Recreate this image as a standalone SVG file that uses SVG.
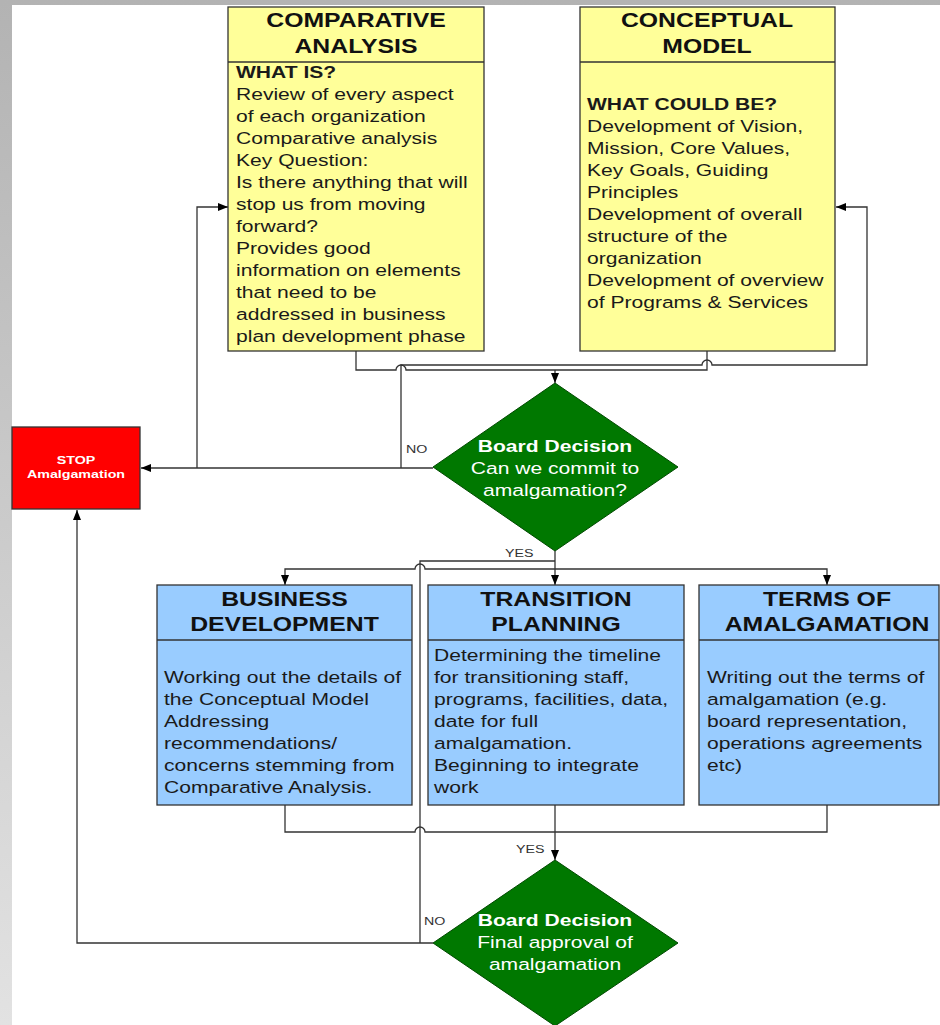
<svg xmlns="http://www.w3.org/2000/svg" width="940" height="1025" viewBox="0 0 940 1025">
<defs>
<linearGradient id="bg" x1="0" y1="0" x2="0" y2="1">
<stop offset="0" stop-color="#b3b3b3"/>
<stop offset="1" stop-color="#e2e2e2"/>
</linearGradient>
<marker id="arr" viewBox="0 0 10 8" refX="10" refY="4" markerWidth="10" markerHeight="8" markerUnits="userSpaceOnUse" orient="auto">
<path d="M0,0 L10,4 L0,8 z" fill="#000"/>
</marker>
<style>
text{font-family:"Liberation Sans",Arial,sans-serif;}
.hd{font-size:20px;font-weight:bold;text-anchor:middle;fill:#111;}
.bd{font-size:17px;fill:#1a1a1a;}
.b{font-weight:bold;}
.dt{font-size:17px;fill:#fff;text-anchor:middle;}
.lbl{font-size:11.5px;fill:#333;}
.yel{fill:#ffff99;stroke:#333;stroke-width:1.3;}
.blu{fill:#99ccff;stroke:#333;stroke-width:1.3;}
.div{stroke:#333;stroke-width:1.3;fill:none;}
.dia{fill:#007800;stroke:#004a00;stroke-width:1;}
.ln{fill:none;stroke:#333;stroke-width:1.3;}
</style>
</defs>
<rect width="940" height="1025" fill="url(#bg)"/>
<rect x="12" y="5" width="928" height="1020" fill="#fff"/>

<g id="connectors">
<path class="ln" d="M356,351 V370 H396 A5,5 0 0 1 406,370 H707 V351"/>
<path class="ln" d="M555,370 V383" marker-end="url(#arr)"/>
<path class="ln" d="M433,468 H141" marker-end="url(#arr)"/>
<path class="ln" d="M197,468 V207 H228" marker-end="url(#arr)"/>
<path class="ln" d="M401,468 V365 H702 A5,5 0 0 1 712,365 H867 V207 H836" marker-end="url(#arr)"/>
<path class="ln" d="M555,551 V585" marker-end="url(#arr)"/>
<path class="ln" d="M420,943 V561 H555"/>
<path class="ln" d="M555,569 H425 A5,5 0 0 0 415,569 H285 V585" marker-end="url(#arr)"/>
<path class="ln" d="M555,569 H827 V585" marker-end="url(#arr)"/>
<path class="ln" d="M285,805 V832 H415 A5,5 0 0 1 425,832 H827 V805"/>
<path class="ln" d="M555,805 V860" marker-end="url(#arr)"/>
<path class="ln" d="M433,943 H77 V510" marker-end="url(#arr)"/>
<text class="lbl" transform="translate(406,453) scale(1.24,1)">NO</text>
<text class="lbl" transform="translate(505,557) scale(1.24,1)">YES</text>
<text class="lbl" transform="translate(516,853) scale(1.24,1)">YES</text>
<text class="lbl" transform="translate(424,925) scale(1.24,1)">NO</text>
</g>

<g id="comparative-analysis">
<rect class="yel" x="228" y="7" width="256" height="344"/>
<path class="div" d="M228,62 H484"/>
<text class="hd" transform="translate(356,27) scale(1.24,1)"><tspan x="0">COMPARATIVE</tspan><tspan x="0" dy="26">ANALYSIS</tspan></text>
<text class="bd" transform="translate(236,78) scale(1.24,1)"><tspan x="0" class="b">WHAT IS?</tspan><tspan x="0" dy="22">Review of every aspect</tspan><tspan x="0" dy="22">of each organization</tspan><tspan x="0" dy="22">Comparative analysis</tspan><tspan x="0" dy="22">Key Question:</tspan><tspan x="0" dy="22">Is there anything that will</tspan><tspan x="0" dy="22">stop us from moving</tspan><tspan x="0" dy="22">forward?</tspan><tspan x="0" dy="22">Provides good</tspan><tspan x="0" dy="22">information on elements</tspan><tspan x="0" dy="22">that need to be</tspan><tspan x="0" dy="22">addressed in business</tspan><tspan x="0" dy="22">plan development phase</tspan></text>
</g>

<g id="conceptual-model">
<rect class="yel" x="580" y="7" width="255" height="344"/>
<path class="div" d="M580,62 H835"/>
<text class="hd" transform="translate(707,27) scale(1.24,1)"><tspan x="0">CONCEPTUAL</tspan><tspan x="0" dy="26">MODEL</tspan></text>
<text class="bd" transform="translate(587,110) scale(1.24,1)"><tspan x="0" class="b">WHAT COULD BE?</tspan><tspan x="0" dy="22">Development of Vision,</tspan><tspan x="0" dy="22">Mission, Core Values,</tspan><tspan x="0" dy="22">Key Goals, Guiding</tspan><tspan x="0" dy="22">Principles</tspan><tspan x="0" dy="22">Development of overall</tspan><tspan x="0" dy="22">structure of the</tspan><tspan x="0" dy="22">organization</tspan><tspan x="0" dy="22">Development of overview</tspan><tspan x="0" dy="22">of Programs &amp; Services</tspan></text>
</g>

<g id="stop">
<rect x="12" y="427" width="128" height="82" fill="#ff0000" stroke="#333" stroke-width="1.3"/>
<text transform="translate(76,464) scale(1.24,1)" font-size="11.5" font-weight="bold" fill="#fff" text-anchor="middle"><tspan x="0">STOP</tspan><tspan x="0" dy="14">Amalgamation</tspan></text>
</g>

<g id="board-decision-1">
<polygon class="dia" points="555,383 678,467 555,551 433,467"/>
<text class="dt" transform="translate(555,452) scale(1.24,1)"><tspan x="0" class="b">Board Decision</tspan><tspan x="0" dy="22">Can we commit to</tspan><tspan x="0" dy="22">amalgamation?</tspan></text>
</g>

<g id="business-development">
<rect class="blu" x="157" y="585" width="255" height="220"/>
<path class="div" d="M157,640 H412"/>
<text class="hd" transform="translate(284.5,606) scale(1.24,1)"><tspan x="0">BUSINESS</tspan><tspan x="0" dy="25">DEVELOPMENT</tspan></text>
<text class="bd" transform="translate(164,683) scale(1.24,1)"><tspan x="0">Working out the details of</tspan><tspan x="0" dy="22">the Conceptual Model</tspan><tspan x="0" dy="22">Addressing</tspan><tspan x="0" dy="22">recommendations/</tspan><tspan x="0" dy="22">concerns stemming from</tspan><tspan x="0" dy="22">Comparative Analysis.</tspan></text>
</g>

<g id="transition-planning">
<rect class="blu" x="428" y="585" width="256" height="220"/>
<path class="div" d="M428,640 H684"/>
<text class="hd" transform="translate(556,606) scale(1.24,1)"><tspan x="0">TRANSITION</tspan><tspan x="0" dy="25">PLANNING</tspan></text>
<text class="bd" transform="translate(434,661) scale(1.24,1)"><tspan x="0">Determining the timeline</tspan><tspan x="0" dy="22">for transitioning staff,</tspan><tspan x="0" dy="22">programs, facilities, data,</tspan><tspan x="0" dy="22">date for full</tspan><tspan x="0" dy="22">amalgamation.</tspan><tspan x="0" dy="22">Beginning to integrate</tspan><tspan x="0" dy="22">work</tspan></text>
</g>

<g id="terms-of-amalgamation">
<rect class="blu" x="699" y="585" width="240" height="220"/>
<path class="div" d="M699,640 H939"/>
<text class="hd" transform="translate(827,606) scale(1.24,1)"><tspan x="0">TERMS OF</tspan><tspan x="0" dy="25">AMALGAMATION</tspan></text>
<text class="bd" transform="translate(707,683) scale(1.24,1)"><tspan x="0">Writing out the terms of</tspan><tspan x="0" dy="22">amalgamation (e.g.</tspan><tspan x="0" dy="22">board representation,</tspan><tspan x="0" dy="22">operations agreements</tspan><tspan x="0" dy="22">etc)</tspan></text>
</g>

<g id="board-decision-2">
<polygon class="dia" points="555,860 678,943 555,1026 433,943"/>
<text class="dt" transform="translate(555,926) scale(1.24,1)"><tspan x="0" class="b">Board Decision</tspan><tspan x="0" dy="22">Final approval of</tspan><tspan x="0" dy="22">amalgamation</tspan></text>
</g>
</svg>
